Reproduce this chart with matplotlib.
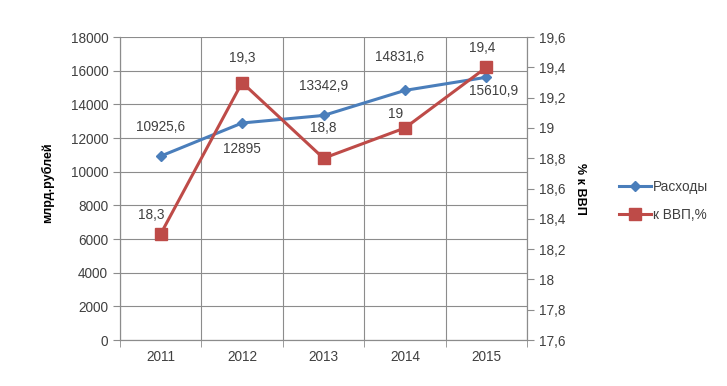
import matplotlib
matplotlib.use("Agg")
import matplotlib.pyplot as plt
from matplotlib.ticker import FuncFormatter, MultipleLocator, FixedLocator

plt.rcParams['font.family'] = ['Liberation Sans', 'DejaVu Sans']

years = ["2011", "2012", "2013", "2014", "2015"]
expenses = [10925.6, 12895, 13342.9, 14831.6, 15610.9]
gdp_share = [18.3, 19.3, 18.8, 19.0, 19.4]
exp_labels = ["10925,6", "12895", "13342,9", "14831,6", "15610,9"]
gdp_labels = ["18,3", "19,3", "18,8", "19", "19,4"]

blue = "#4a7ebb"
red = "#be4b48"
grid_c = "#8c8c8c"
txt_c = "#404040"
fs = 9.8

fig = plt.figure(figsize=(7.27, 3.86), dpi=100)
ax = fig.add_axes([0.165, 0.119, 0.56, 0.785])
ax2 = ax.twinx()

x = list(range(len(years)))
ax.set_xlim(-0.5, len(years) - 0.5)
ax.set_ylim(0, 18000)
ax.yaxis.set_major_locator(MultipleLocator(2000))
ax2.set_ylim(17.6, 19.6)
ax2.yaxis.set_major_locator(MultipleLocator(0.2))

ax.set_xticks(x)
ax.set_xticklabels(years)
ax.xaxis.set_minor_locator(FixedLocator([i - 0.5 for i in range(len(years) + 1)]))
ax.tick_params(axis='x', which='major', length=0, pad=7, labelsize=fs, colors=txt_c)
ax.tick_params(axis='x', which='minor', length=5, color=grid_c)
ax.tick_params(axis='y', length=5, color=grid_c, labelsize=fs, labelcolor=txt_c)
ax2.tick_params(axis='y', length=5, color=grid_c, labelsize=fs, labelcolor=txt_c)

ax.grid(True, axis='y', color=grid_c, lw=0.8)
ax.grid(True, axis='x', which='minor', color=grid_c, lw=0.8)
ax.set_axisbelow(True)

for a in (ax, ax2):
    a.spines['top'].set_visible(False)
    for s in ('left', 'right', 'bottom'):
        a.spines[s].set_color(grid_c)
        a.spines[s].set_linewidth(0.8)

fmt = FuncFormatter(lambda v, p: (f"{v:.1f}".rstrip('0').rstrip('.')).replace('.', ','))
ax2.yaxis.set_major_formatter(fmt)

l1, = ax.plot(x, expenses, color=blue, lw=2.2, marker='D', ms=5, label="Расходы", zorder=3)
l2, = ax2.plot(x, gdp_share, color=red, lw=2.2, marker='s', ms=8, label="к ВВП,%", zorder=3)

# data labels (offsets in points)
exp_off = [(0, 21), (0, -19), (0, 21), (-4, 24), (5, -10)]
for i, (v, s) in enumerate(zip(expenses, exp_labels)):
    ax.annotate(s, (i, v), xytext=exp_off[i], textcoords='offset points',
                ha='center', va='center', fontsize=fs, color=txt_c)
gdp_off = [(-7, 14), (0, 18), (0, 22), (-7, 10), (-3, 14)]
for i, (v, s) in enumerate(zip(gdp_share, gdp_labels)):
    ax2.annotate(s, (i, v), xytext=gdp_off[i], textcoords='offset points',
                 ha='center', va='center', fontsize=fs, color=txt_c)

ax.set_ylabel("млрд.рублей", fontsize=9, fontweight='bold')
ax.yaxis.set_label_coords(-0.162, 0.52)
ax2.set_ylabel("% к ВВП", fontsize=9, fontweight='bold', rotation=-90, va='center')
ax2.yaxis.set_label_coords(1.13, 0.5)

fig.legend(handles=[l1, l2], loc='center left', bbox_to_anchor=(0.835, 0.48),
           frameon=False, fontsize=fs, handlelength=2.3, labelspacing=1.0,
           handletextpad=0.2, labelcolor=txt_c)

fig.savefig("out.png", dpi=100)
